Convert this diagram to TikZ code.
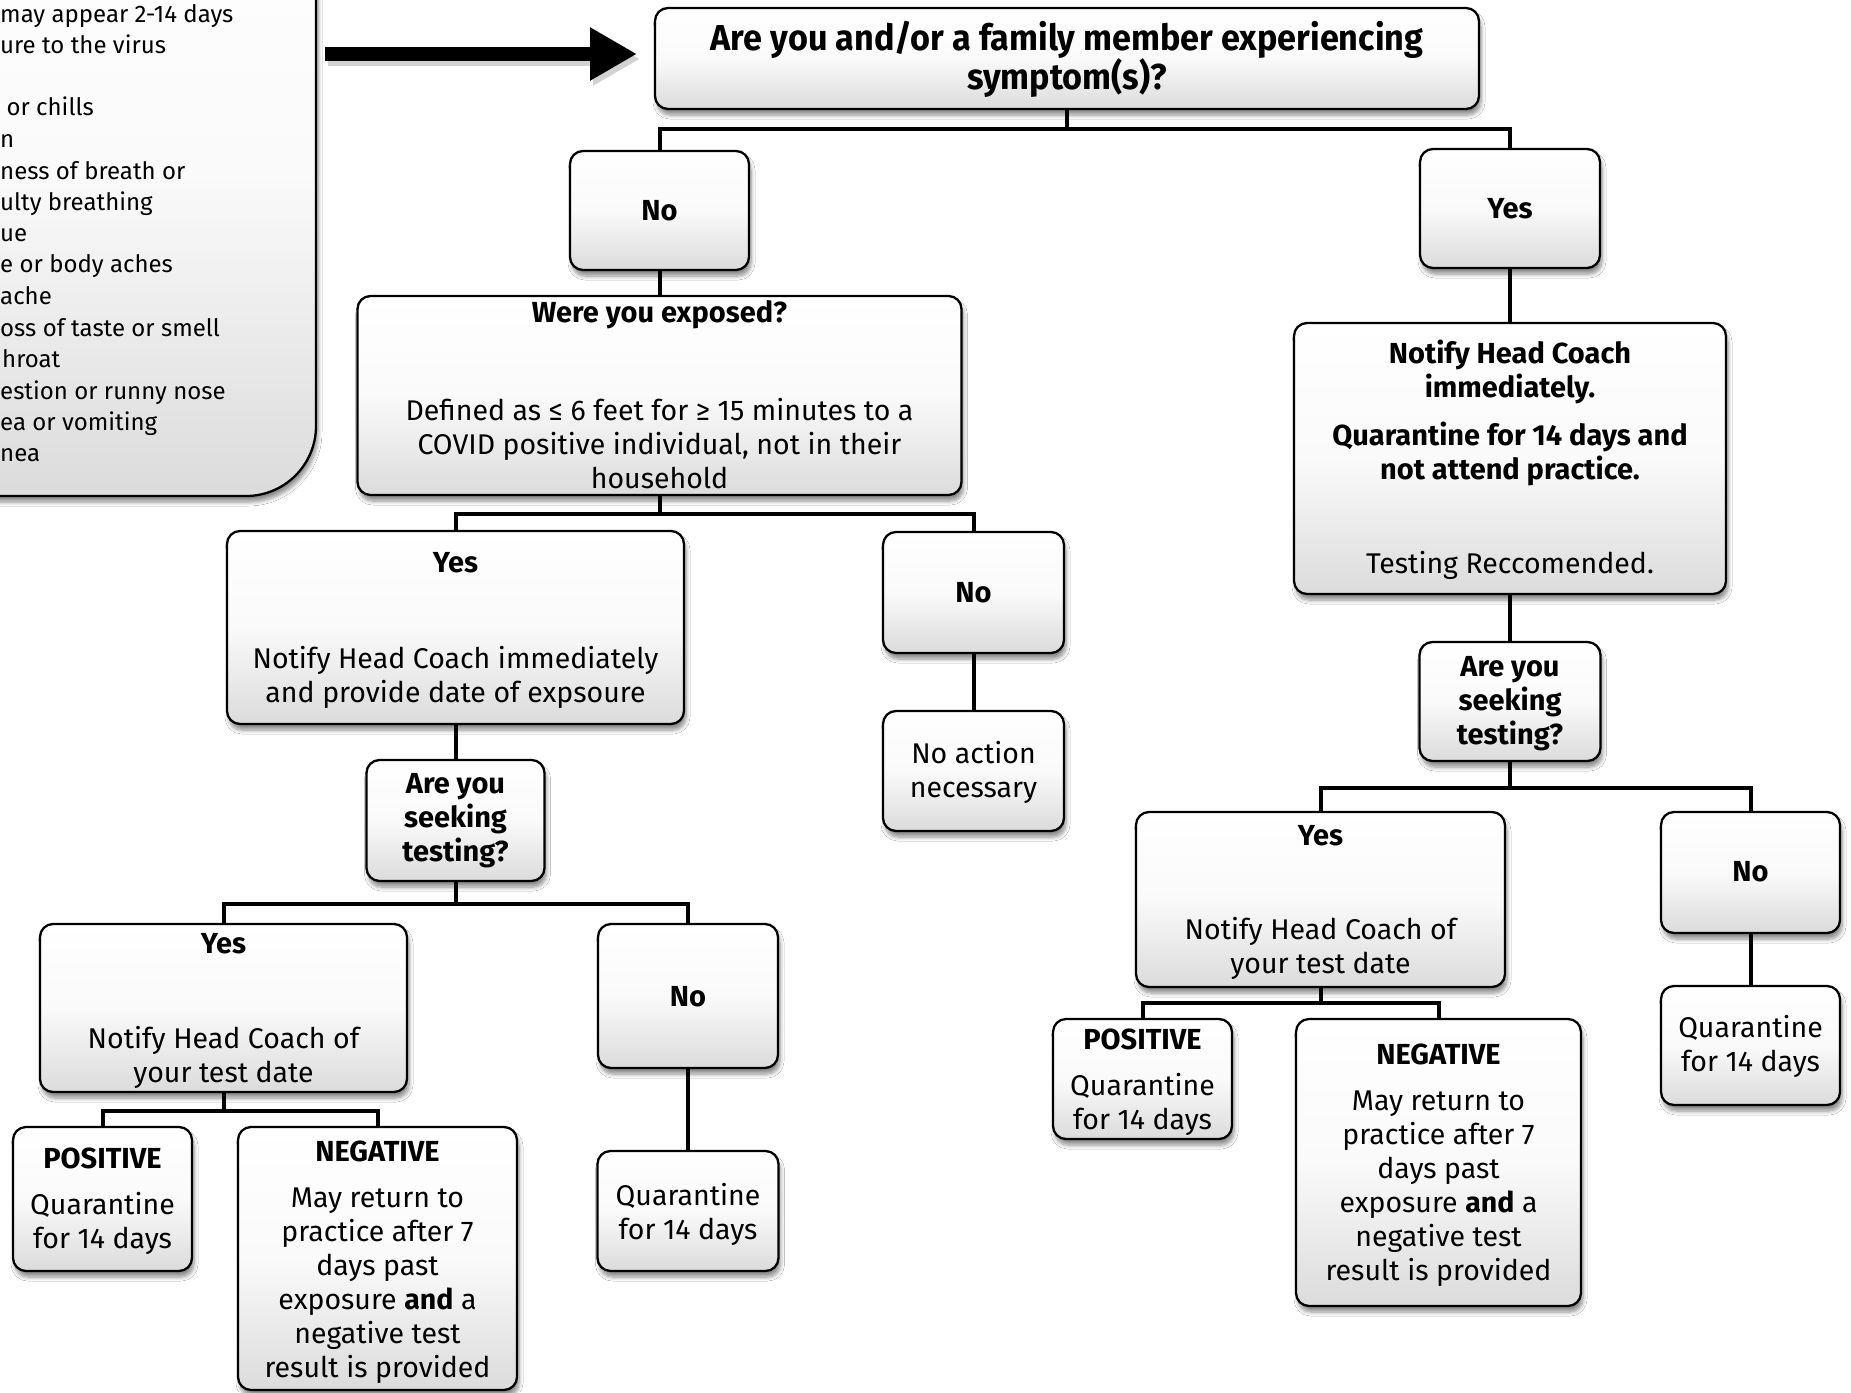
\documentclass[tikz,border=0pt]{standalone}
\usepackage{fontspec}
\setmainfont{Fira Sans}
\newfontfamily\titlefont[FakeStretch=0.95]{Fira Sans}
\usetikzlibrary{shadows,shadows.blur,arrows.meta}
\tikzset{
  box/.style={draw=black, line width=2.3pt, rounded corners=13pt,
    top color=white, bottom color=black!14, middle color=black!2,
    blur shadow={shadow xshift=2pt, shadow yshift=-6pt, shadow blur steps=6, shadow blur radius=4pt, shadow opacity=45},
    inner sep=0pt},
  sz/.style 2 args={minimum width=#1pt, minimum height=#2pt},
  lbl/.style={inner sep=0pt, align=center, font=\fontsize{28.5}{34}\selectfont},
  bl/.style={inner sep=0pt, align=center, font=\fontsize{29}{34}\selectfont\bfseries},
  side/.style={inner sep=0pt, anchor=base west, font=\fontsize{24}{31}\selectfont},
  conn/.style={draw=black, line width=4pt},
}
\begin{document}
\begin{tikzpicture}[x=1pt,y=-1pt]
\useasboundingbox (0,0) rectangle (1851,1392);
\clip (0,0) rectangle (1851,1392);
\fill[white] (0,0) rectangle (1851,1392);

% symptoms box (cut by the left and top edges)
\node[box, rounded corners=70pt, sz={566}{646}] (symp) at (33,173) {};
\node[side] (s1) at (0,22) {may appear 2-14 days};
\node[side] (s2) at (0,53) {ure to the virus};
\node[side] (s3) at (0,115) {\ or chills};
\node[side] (s4) at (0,147) {n};
\node[side] (s5) at (0,179) {ness of breath or};
\node[side] (s6) at (0,210) {ulty breathing};
\node[side] (s7) at (0,241) {ue};
\node[side] (s8) at (0,272) {e or body aches};
\node[side] (s9) at (0,304) {ache};
\node[side] (s10) at (0,336) {oss of taste or smell};
\node[side] (s11) at (2,367) {hroat};
\node[side] (s12) at (0,399) {estion or runny nose};
\node[side] (s13) at (0,430) {ea or vomiting};
\node[side] (s14) at (0,461) {nea};

% big arrow
\coordinate (arrS) at (325,54);
\coordinate (arrE) at (637,54);
\draw[line width=14pt, black!35, opacity=0.5, -{Triangle[length=47pt,width=50pt]}] ([shift={(3pt,-5pt)}]arrS) -- ([shift={(3pt,-5pt)}]arrE);
\draw[line width=14pt, -{Triangle[length=47pt,width=50pt]}] (arrS) -- (arrE);

% boxes
\node[box, sz={824}{101}] (top) at (1067,58.5) {};
\node[box, sz={179}{119}] (noA) at (659.5,210.5) {};
\node[box, sz={180}{119}] (yesA) at (1510,208.5) {};
\node[box, sz={604}{199}] (exposed) at (659.5,395.5) {};
\node[box, sz={457}{193}] (yesB) at (455.5,627.5) {};
\node[box, sz={181}{121}] (noB) at (973.5,592.5) {};
\node[box, sz={181}{120}] (noact) at (973.5,771) {};
\node[box, sz={178}{121}] (seekL) at (455.5,820.5) {};
\node[box, sz={367}{168}] (yesC) at (223.5,1008) {};
\node[box, sz={180}{144}] (noC) at (688,996) {};
\node[box, sz={181}{120}] (quarC) at (688,1211) {};
\node[box, sz={179}{144}] (posL) at (102.5,1199) {};
\node[box, sz={279}{263}] (negL) at (377.5,1258.5) {};
\node[box, sz={432}{271}] (notifyR) at (1510,458.5) {};
\node[box, sz={181}{119}] (seekR) at (1510,701.5) {};
\node[box, sz={369}{175}] (yesD) at (1320.5,899.5) {};
\node[box, sz={179}{121}] (noD) at (1750.5,872.5) {};
\node[box, sz={179}{119}] (quarD) at (1750.5,1045.5) {};
\node[box, sz={179}{120}] (posR) at (1142.5,1079) {};
\node[box, sz={285}{287}] (negR) at (1438.5,1162.5) {};

% connectors
\draw[conn] (top.south) -- ++(0,18.5) -| (noA.north);
\draw[conn] (top.south) -- ++(0,18.5) -| (yesA.north);
\draw[conn] (noA.south) -- (exposed.north);
\draw[conn] (exposed.south) -- ++(0,18) -| (yesB.north);
\draw[conn] (exposed.south) -- ++(0,18) -| (noB.north);
\draw[conn] (noB.south) -- (noact.north);
\draw[conn] (yesB.south) -- (seekL.north);
\draw[conn] (seekL.south) -- ++(0,22) -| (yesC.north);
\draw[conn] (seekL.south) -- ++(0,22) -| (noC.north);
\draw[conn] (noC.south) -- (quarC.north);
\draw[conn] (yesC.south) -- ++(0,18) -| (posL.north);
\draw[conn] (yesC.south) -- ++(0,18) -| (negL.north);
\draw[conn] (yesA.south) -- (notifyR.north);
\draw[conn] (notifyR.south) -- (seekR.north);
\draw[conn] (seekR.south) -- ++(0,26) -| (yesD.north);
\draw[conn] (seekR.south) -- ++(0,26) -| (noD.north);
\draw[conn] (noD.south) -- (quarD.north);
\draw[conn] (yesD.south) -- ++(0,15) -| (posR.north);
\draw[conn] (yesD.south) -- ++(0,15) -| (negR.north);

% texts
\node[inner sep=0pt, align=center, font=\titlefont\fontsize{36}{39}\selectfont\bfseries] (topT) at (1067,59.5) {Are you and/or a family member experiencing\\symptom(s)?};
\node[bl] (noAT) at (659.5,211) {No};
\node[bl] (yesAT) at (1510,209) {Yes};
\node[bl] (expT1) at (659.5,315) {Were you exposed?};
\node[lbl] (expT2) at (659.5,444) {Defined as ≤ 6 feet for ≥ 15 minutes to a\\COVID positive individual, not in their\\household};
\node[bl] (yesBT1) at (455.5,563) {Yes};
\node[lbl] (yesBT2) at (455.5,677) {Notify Head Coach immediately\\and provide date of expsoure};
\node[bl] (noBT) at (973.5,593) {No};
\node[lbl] (noactT) at (973.5,772) {No action\\necessary};
\node[bl] (seekLT) at (455.5,821) {Are you\\seeking\\testing?};
\node[bl] (yesCT1) at (223.5,944) {Yes};
\node[lbl] (yesCT2) at (223.5,1057) {Notify Head Coach of\\your test date};
\node[bl] (noCT) at (688,997) {No};
\node[lbl] (quarCT) at (688,1214) {Quarantine\\for 14 days};
\node[bl] (posLT1) at (102.5,1158) {POSITIVE};
\node[lbl] (posLT2) at (102.5,1223) {Quarantine\\for 14 days};
\node[bl] (negLT1) at (377.5,1151) {NEGATIVE};
\node[lbl] (negLT2) at (377.5,1286) {May return to\\practice after 7\\days past\\exposure \textbf{and} a\\negative test\\result is provided};
\node[bl] (notRT1) at (1510,372) {Notify Head Coach\\immediately.};
\node[bl] (notRT2) at (1510,454) {Quarantine for 14 days and\\not attend practice.};
\node[lbl] (notRT3) at (1510,565) {Testing Reccomended.};
\node[bl] (seekRT) at (1510,704) {Are you\\seeking\\testing?};
\node[bl] (yesDT1) at (1320.5,836) {Yes};
\node[lbl] (yesDT2) at (1320.5,948) {Notify Head Coach of\\your test date};
\node[bl] (noDT) at (1750.5,872) {No};
\node[lbl] (quarDT) at (1750.5,1046) {Quarantine\\for 14 days};
\node[bl] (posRT1) at (1142.5,1039) {POSITIVE};
\node[lbl] (posRT2) at (1142.5,1104) {Quarantine\\for 14 days};
\node[bl] (negRT1) at (1438.5,1054) {NEGATIVE};
\node[lbl] (negRT2) at (1438.5,1189) {May return to\\practice after 7\\days past\\exposure \textbf{and} a\\negative test\\result is provided};
\end{tikzpicture}
\end{document}
